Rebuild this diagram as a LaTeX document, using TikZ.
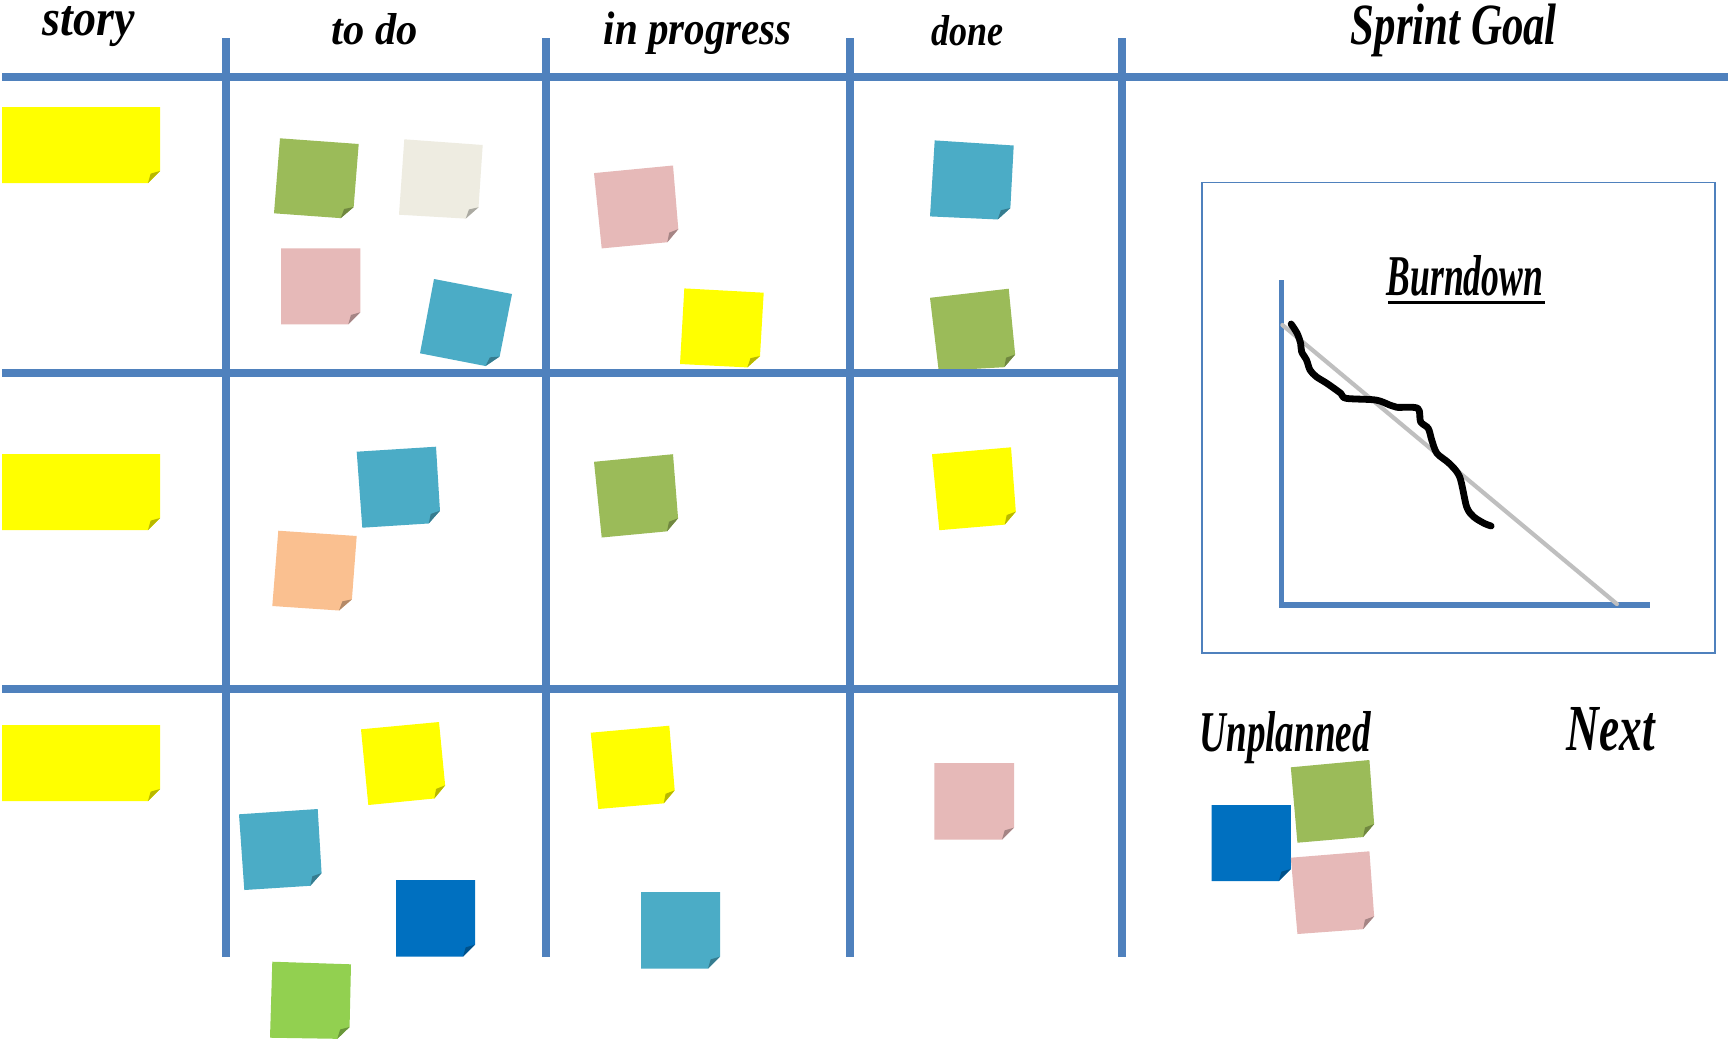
\documentclass[tikz,border=0pt]{standalone}
\usepackage{fontspec}
\setmainfont{Liberation Serif}
\newfontfamily\handfont{Liberation Serif}
\usetikzlibrary{calc}
\definecolor{gridblue}{HTML}{4F81BD}
\definecolor{nyellow}{HTML}{FFFF00}
\definecolor{ngreen}{HTML}{9BBB59}
\definecolor{ncream}{HTML}{EEECE1}
\definecolor{npink}{HTML}{E6B9B8}
\definecolor{nteal}{HTML}{4BACC6}
\definecolor{npeach}{HTML}{FAC090}
\definecolor{ndblue}{HTML}{0070C0}
\definecolor{nlgreen}{HTML}{92D050}
\definecolor{idealgray}{HTML}{BFBFBF}
\newcommand{\stickynote}[5]{%
  \coordinate (pTL) at (#2); \coordinate (pTR) at (#3);
  \coordinate (pBR) at (#4); \coordinate (pBL) at (#5);
  \coordinate (pA) at ($(pBR)!0.12cm!(pTR)$);
  \coordinate (pB) at ($(pBR)!0.12cm!(pBL)$);
  \fill[#1] (pTL) -- (pTR) -- (pA) -- (pB) -- (pBL) -- cycle;
  \fill[#1!72!black] (pA) -- (pB) -- ($0.78*(pA)+0.78*(pB)-0.56*(pBR)$) -- cycle;
}
\newcommand{\boxnote}[5]{\stickynote{#1}{#2,#3}{#4,#3}{#4,#5}{#2,#5}}
\tikzset{
  gridline/.style={draw=gridblue, line width=0.077cm},
  hand/.style={anchor=base west, inner sep=0pt, font=\handfont\bfseries\itshape},
}
\begin{document}
\begin{tikzpicture}[x=0.01cm, y=-0.01cm]
\useasboundingbox (0,0) rectangle (1728,1042);
\fill[white] (0,0) rectangle (1728,1042);

% story notes
\boxnote{nyellow}{2}{107}{160}{183}
\boxnote{nyellow}{2}{454}{160}{530}
\boxnote{nyellow}{2}{725}{160}{801}

% to do
\stickynote{ngreen}{280,138.3}{358.7,144}{352.7,219}{274,213.3}
\stickynote{ncream}{404.3,139.3}{482.7,145}{477.7,219.3}{399,214.7}
\boxnote{npink}{281}{248.3}{360.3}{324.3}
\stickynote{nteal}{434,279}{512,294}{497.3,368.3}{420,353.3}
\stickynote{nteal}{356.7,451.7}{436,446.7}{440.7,522.7}{362.3,527.7}
\stickynote{npeach}{278.3,530.7}{356.7,536}{351,611.3}{272.3,606}
\stickynote{nyellow}{361,729.3}{439,722}{446.3,797.3}{368.3,805}
\stickynote{nteal}{239,814.3}{317.7,809}{322.3,885}{244.3,890}
\boxnote{ndblue}{396}{880}{475}{956.7}
\stickynote{nlgreen}{272.3,961.7}{351,964.3}{349.3,1039}{270,1037.7}

% in progress
\stickynote{npink}{594,173.1}{673,165.5}{679.3,241.1}{601.7,248.4}
\stickynote{nyellow}{684.3,288.4}{763.7,292.7}{759.3,368}{680,364}
\stickynote{ngreen}{594,461.8}{673,454.2}{679,530.2}{601.7,537.5}
\stickynote{nyellow}{590.7,732.7}{669.3,725.7}{675.7,802.3}{598.3,809}
\boxnote{nteal}{641}{892}{720}{968.7}

% done
\stickynote{nteal}{934.7,140.4}{1013.7,145.5}{1009.7,220}{930,216.4}
\stickynote{ngreen}{930,297.8}{1008.7,288.7}{1016.3,366.5}{938.7,370.9}
\stickynote{nyellow}{932,454.2}{1011,447.3}{1016.7,523.6}{939.3,530.2}
\boxnote{npink}{934.3}{763}{1014}{839.7}

% unplanned
\boxnote{ndblue}{1211.5}{805}{1290.8}{881}
\stickynote{ngreen}{1290.8,767.3}{1369.4,760}{1375,836}{1297.4,842.7}
\stickynote{npink}{1290.8,857.7}{1369.4,851.3}{1375,928.3}{1297.4,934}

% grid
\draw[gridline] (2,77) -- (1728,77);
\draw[gridline] (2,373) -- (1125.8,373);
\draw[gridline] (2,689) -- (1125.8,689);
\foreach \gx in {226,546,850,1122} {
  \draw[gridline] (\gx,38) -- (\gx,956.7);
}

% headers
\node[hand] (hstory) at (42,35) {\resizebox{9.2mm}{2.9mm}{story}};
\node[hand] (htodo) at (331,44.3) {\resizebox{8.6mm}{3.1mm}{to do}};
\node[hand] (hprog) at (603,44.3) {\resizebox{18.8mm}{3.26mm}{in progress}};
\node[hand] (hdone) at (931,45) {\resizebox{7.2mm}{3.0mm}{done}};
\node[hand] (hgoal) at (1350,44) {\resizebox{20.6mm}{4.05mm}{Sprint Goal}};

% burndown panel
\draw[gridblue, line width=0.45pt] (1201.7,182.7) rectangle (1714.8,652.7);
\coordinate (axtop) at (1281.7,280);
\coordinate (axorigin) at (1281.7,605);
\coordinate (axright) at (1650,605);
\draw[gridblue, line width=0.05cm] (axtop) -- (axorigin);
\draw[gridblue, line width=0.056cm] ($(axorigin)+(-2.5,0)$) -- (axright);
\coordinate (idealstart) at (1282.4,325);
\coordinate (idealend) at (1616.9,604);
\draw[idealgray, line width=0.042cm, line cap=round] (idealstart) -- (idealend);
\draw[black, line width=0.068cm, line cap=round, line join=round]
  plot[smooth, tension=0.5] coordinates {
  (1291.1,324) (1297.1,333.3) (1300.6,343.3) (1301.6,351.7) (1306.5,360)
  (1310,370) (1316.3,376.7) (1326.8,383.3) (1340.8,393.3) (1346,398.3)
  (1375.7,400) (1389.7,405) (1396.7,407.3) (1417.7,408.3) (1420.5,421.7)
  (1428.2,428.3) (1431.7,440) (1436.9,453.3) (1449.1,463.3) (1459.6,476.7)
  (1466.6,506.7) (1473.6,516.7) (1484.1,523.3) (1491.1,526)};
\node[hand] (burn) at (1386,295) {\resizebox{15.6mm}{4.0mm}{Burndown}};
\draw[black, line width=0.035cm] ($(burn.base west)+(2,7.7)$) -- ($(burn.base east)+(1,7.7)$);

\node[hand] (unplanned) at (1199,751.7) {\resizebox{17.1mm}{4.0mm}{Unplanned}};
\node[hand] (next) at (1566,750) {\resizebox{8.8mm}{4.3mm}{Next}};
\end{tikzpicture}
\end{document}
